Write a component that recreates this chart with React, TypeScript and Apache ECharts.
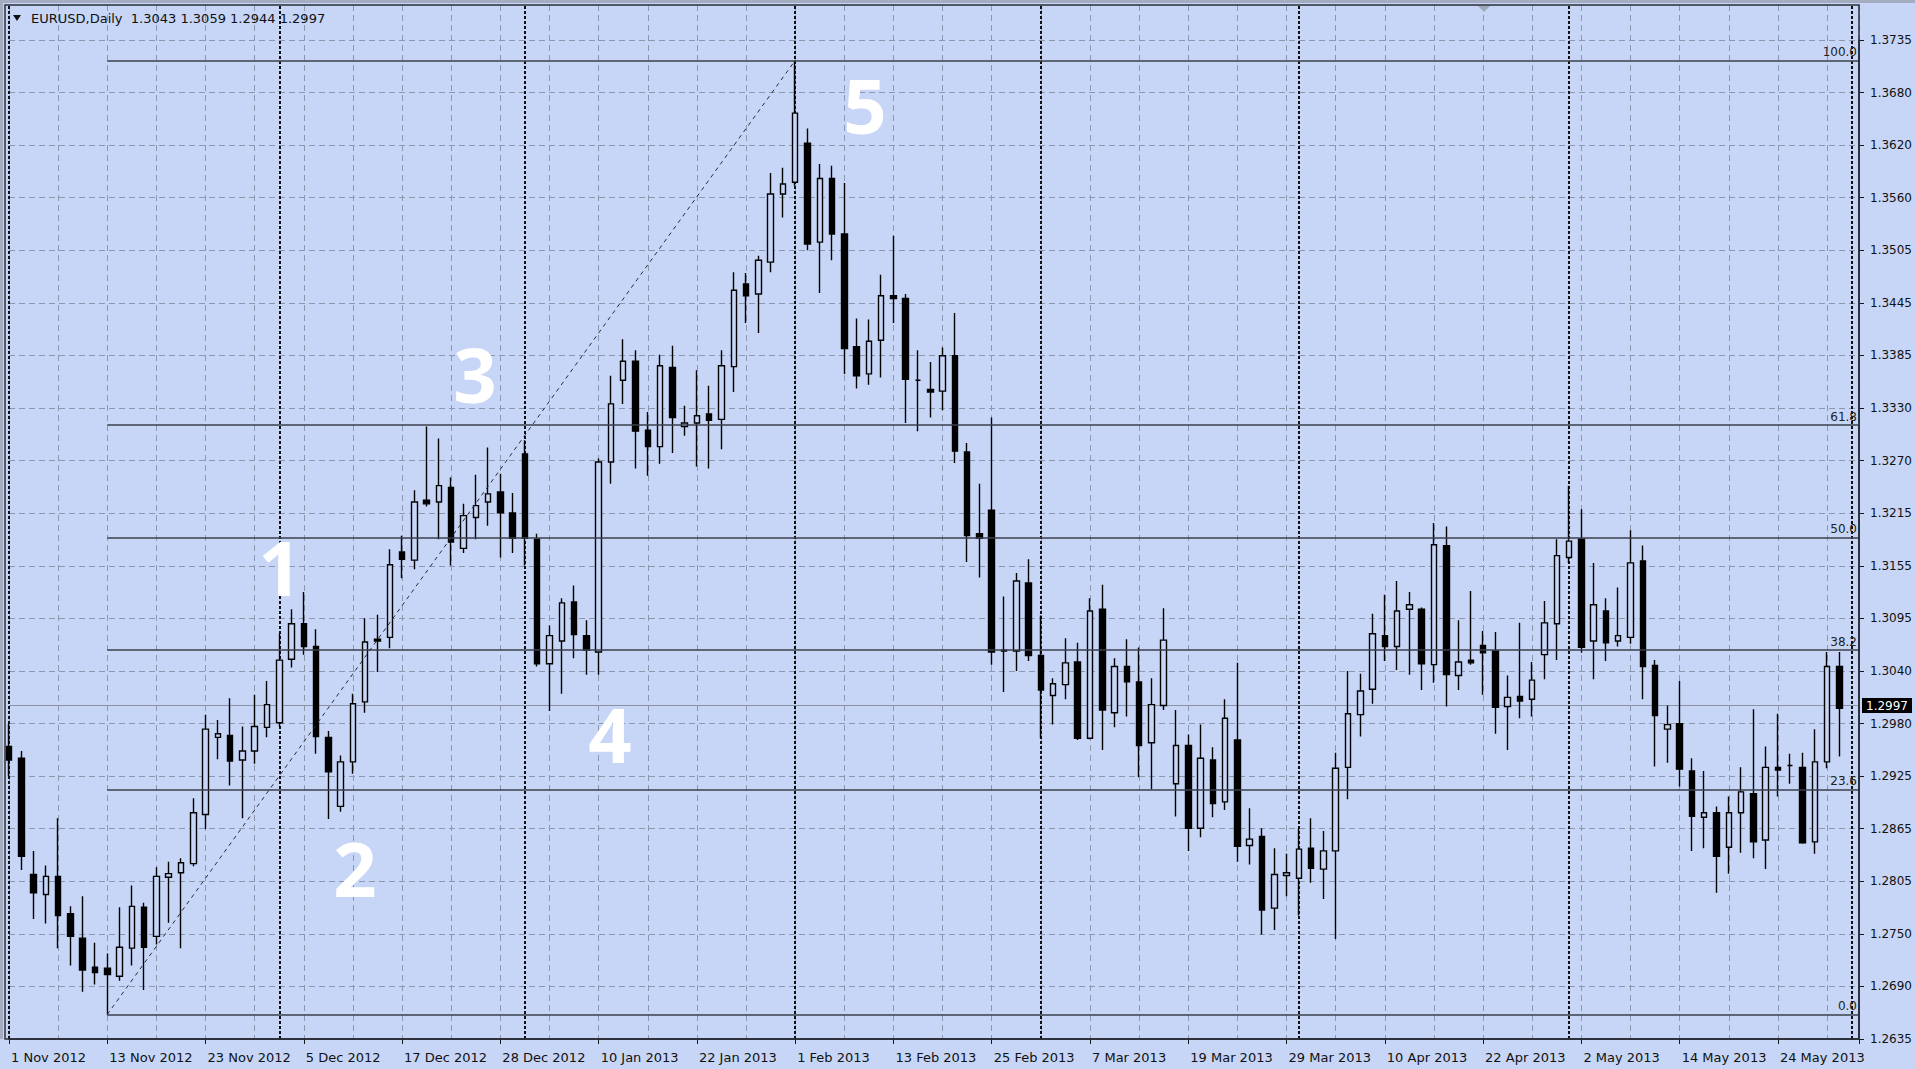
import React, { useEffect, useRef } from 'react';
import * as echarts from 'echarts';

// ---------------- data ----------------
const symbolTitle = 'EURUSD,Daily';

const opens = [
  1.2955, 1.2942, 1.2814, 1.2792, 1.2812, 1.2771, 1.2744, 1.2712, 1.2711, 1.2702,
  1.2733, 1.2778, 1.2746, 1.2811, 1.2816, 1.2826, 1.2880, 1.2965, 1.2967, 1.2940,
  1.2950, 1.2976, 1.2981, 1.3051, 1.3090, 1.3065, 1.2965, 1.2889, 1.2938, 1.3004,
  1.3073, 1.3075, 1.3169, 1.3160, 1.3226, 1.3224, 1.3240, 1.3173, 1.3207, 1.3224,
  1.3235, 1.3212, 1.3277, 1.3183, 1.3046, 1.3071, 1.3114, 1.3077, 1.3059, 1.3268,
  1.3358, 1.3379, 1.3303, 1.3285, 1.3372, 1.3307, 1.3311, 1.3321, 1.3315, 1.3373,
  1.3464, 1.3453, 1.3488, 1.3563, 1.3576, 1.3619, 1.3510, 1.3580, 1.3519, 1.3395,
  1.3365, 1.3402, 1.3451, 1.3448, 1.3358, 1.3348, 1.3346, 1.3385, 1.3279, 1.3189,
  1.3215, 1.3060, 1.3060, 1.3135, 1.3055, 1.3011, 1.3023, 1.3048, 1.2964, 1.3106,
  1.2992, 1.3043, 1.3026, 1.2959, 1.3000, 1.2914, 1.2956, 1.2865, 1.2940, 1.2894,
  1.2962, 1.2846, 1.2856, 1.2777, 1.2813, 1.2810, 1.2843, 1.2820, 1.2840, 1.2932,
  1.2990, 1.3018, 1.3077, 1.3065, 1.3106, 1.3106, 1.3045, 1.3176, 1.3033, 1.3050,
  1.3066, 1.3060, 1.2999, 1.3010, 1.3007, 1.3056, 1.3090, 1.3163, 1.3183, 1.3071,
  1.3104, 1.3071, 1.3075, 1.3159, 1.3044, 1.2974, 1.2980, 1.2928, 1.2877, 1.2882,
  1.2844, 1.2882, 1.2903, 1.2852, 1.2932, 1.2934, 1.2932, 1.2850, 1.2938, 1.3043,
];
const highs = [
  1.2980, 1.2950, 1.2840, 1.2824, 1.2876, 1.2779, 1.2790, 1.2739, 1.2727, 1.2778,
  1.2802, 1.2783, 1.2822, 1.2828, 1.2832, 1.2898, 1.2990, 1.2984, 1.3008, 1.2977,
  1.3012, 1.3027, 1.3079, 1.3106, 1.3125, 1.3084, 1.2972, 1.2945, 1.3013, 1.3096,
  1.3100, 1.3172, 1.3187, 1.3237, 1.3307, 1.3294, 1.3251, 1.3222, 1.3254, 1.3284,
  1.3255, 1.3234, 1.3292, 1.3189, 1.3088, 1.3118, 1.3132, 1.3094, 1.3272, 1.3363,
  1.3403, 1.3391, 1.3323, 1.3386, 1.3396, 1.3330, 1.3369, 1.3352, 1.3391, 1.3477,
  1.3476, 1.3495, 1.3586, 1.3592, 1.3710, 1.3635, 1.3596, 1.3594, 1.3575, 1.3426,
  1.3425, 1.3474, 1.3517, 1.3453, 1.3391, 1.3378, 1.3394, 1.3432, 1.3289, 1.3244,
  1.3317, 1.3120, 1.3146, 1.3161, 1.3099, 1.3030, 1.3074, 1.3069, 1.3118, 1.3133,
  1.3052, 1.3073, 1.3064, 1.3030, 1.3107, 1.2995, 1.2968, 1.2979, 1.2954, 1.3007,
  1.3047, 1.2887, 1.2865, 1.2843, 1.2837, 1.2865, 1.2876, 1.2862, 1.2948, 1.3038,
  1.3035, 1.3101, 1.3122, 1.3137, 1.3125, 1.3108, 1.3201, 1.3197, 1.3094, 1.3126,
  1.3082, 1.3081, 1.3033, 1.3091, 1.3048, 1.3115, 1.3183, 1.3242, 1.3216, 1.3157,
  1.3118, 1.3130, 1.3193, 1.3176, 1.3050, 1.3000, 1.3027, 1.2942, 1.2928, 1.2889,
  1.2900, 1.2932, 1.2996, 1.2955, 1.2991, 1.2947, 1.2948, 1.2974, 1.3059, 1.3059,
];
const lows = [
  1.2922, 1.2819, 1.2765, 1.2760, 1.2733, 1.2714, 1.2685, 1.2693, 1.2660, 1.2697,
  1.2714, 1.2687, 1.2737, 1.2761, 1.2733, 1.2823, 1.2864, 1.2941, 1.2912, 1.2876,
  1.2936, 1.2965, 1.2977, 1.3042, 1.3056, 1.2947, 1.2875, 1.2883, 1.2925, 1.2992,
  1.3037, 1.3063, 1.3140, 1.3150, 1.3219, 1.3183, 1.3154, 1.3168, 1.3183, 1.3198,
  1.3163, 1.3168, 1.3154, 1.3043, 1.2994, 1.3013, 1.3052, 1.3034, 1.3034, 1.3244,
  1.3332, 1.3261, 1.3253, 1.3266, 1.3278, 1.3297, 1.3263, 1.3261, 1.3282, 1.3345,
  1.3421, 1.3410, 1.3477, 1.3537, 1.3572, 1.3501, 1.3454, 1.3490, 1.3365, 1.3349,
  1.3353, 1.3361, 1.3421, 1.3311, 1.3302, 1.3317, 1.3325, 1.3267, 1.3158, 1.3141,
  1.3045, 1.3015, 1.3038, 1.3049, 1.2964, 1.2979, 1.3007, 1.2962, 1.2963, 1.2951,
  1.2976, 1.2988, 1.2921, 1.2908, 1.2995, 1.2878, 1.2840, 1.2855, 1.2877, 1.2885,
  1.2828, 1.2825, 1.2748, 1.2753, 1.2790, 1.2769, 1.2805, 1.2787, 1.2743, 1.2897,
  1.2966, 1.3002, 1.3049, 1.3039, 1.3034, 1.3017, 1.3025, 1.2999, 1.3017, 1.3045,
  1.3012, 1.2969, 1.2951, 1.2986, 1.2988, 1.3029, 1.3050, 1.3157, 1.3058, 1.3029,
  1.3049, 1.3065, 1.3068, 1.3007, 1.2933, 1.2937, 1.2911, 1.2840, 1.2843, 1.2794,
  1.2815, 1.2838, 1.2832, 1.2820, 1.2900, 1.2914, 1.2848, 1.2837, 1.2931, 1.2944,
];
const closes = [
  1.2940, 1.2834, 1.2794, 1.2812, 1.2769, 1.2746, 1.2709, 1.2706, 1.2704, 1.2734,
  1.2779, 1.2734, 1.2812, 1.2815, 1.2827, 1.2882, 1.2974, 1.2969, 1.2939, 1.2950,
  1.2977, 1.3001, 1.3050, 1.3090, 1.3065, 1.2966, 1.2927, 1.2938, 1.3002, 1.3070,
  1.3071, 1.3155, 1.3161, 1.3224, 1.3222, 1.3242, 1.3180, 1.3209, 1.3220, 1.3233,
  1.3212, 1.3184, 1.3184, 1.3046, 1.3077, 1.3113, 1.3078, 1.3061, 1.3268, 1.3332,
  1.3379, 1.3302, 1.3285, 1.3374, 1.3317, 1.3311, 1.3319, 1.3314, 1.3374, 1.3457,
  1.3451, 1.3490, 1.3563, 1.3574, 1.3652, 1.3508, 1.3580, 1.3519, 1.3393, 1.3363,
  1.3401, 1.3451, 1.3448, 1.3359, 1.3358, 1.3345, 1.3385, 1.3280, 1.3187, 1.3184,
  1.3059, 1.3061, 1.3137, 1.3055, 1.3017, 1.3024, 1.3047, 1.2964, 1.3104, 1.2995,
  1.3043, 1.3026, 1.2956, 1.3001, 1.3072, 1.2956, 1.2865, 1.2942, 1.2892, 1.2986,
  1.2845, 1.2853, 1.2775, 1.2814, 1.2816, 1.2842, 1.2821, 1.2840, 1.2931, 1.2991,
  1.3016, 1.3079, 1.3065, 1.3104, 1.3111, 1.3046, 1.3177, 1.3034, 1.3048, 1.3047,
  1.3058, 1.2998, 1.3009, 1.3005, 1.3028, 1.3091, 1.3165, 1.3181, 1.3064, 1.3111,
  1.3069, 1.3077, 1.3157, 1.3043, 1.2989, 1.2979, 1.2930, 1.2878, 1.2882, 1.2834,
  1.2882, 1.2905, 1.2850, 1.2932, 1.2929, 1.2934, 1.2849, 1.2938, 1.3043, 1.2997,
];

const xTickLabels = [
  '1 Nov 2012', '13 Nov 2012', '23 Nov 2012', '5 Dec 2012', '17 Dec 2012', '28 Dec 2012',
  '10 Jan 2013', '22 Jan 2013', '1 Feb 2013', '13 Feb 2013', '25 Feb 2013', '7 Mar 2013',
  '19 Mar 2013', '29 Mar 2013', '10 Apr 2013', '22 Apr 2013', '2 May 2013', '14 May 2013',
  '24 May 2013',
];
const xTickEvery = 8;
const yTickLabels = [
  '1.2635', '1.2690', '1.2750', '1.2805', '1.2865', '1.2925', '1.2980', '1.3040', '1.3095',
  '1.3155', '1.3215', '1.3270', '1.3330', '1.3385', '1.3445', '1.3505', '1.3560', '1.3620',
  '1.3680', '1.3735',
];
const fibLevels = [0, 23.6, 38.2, 50, 61.8, 100];
const fibStartBar = 8;
const fibEndBar = 64;
const separatorBars = [0, 22, 42, 64, 84, 105, 127, 150];
const waveTexts = ['1', '2', '3', '4', '5'];

// ---------------- layout / style ----------------
const W = 1915;
const H = 1069;
const PLOT_L = 9;
const PLOT_R = 1859;
const PLOT_T = 5;
const PLOT_B = 1039;
const TICK_T = 40;
const X_MAX = 150.6;
const PRICE_MIN = 1.2633;
const PRICE_MAX = 1.3771;
const BG = '#c7d6f6';
const GRID = '#8d98ae';
const INK = '#15171c';
const FONT = 'DejaVu Sans';
const wavePos = [
  [280, 566],
  [355, 867],
  [475, 373],
  [610, 733],
  [865, 104],
];

export default function App() {
  const ref = useRef<HTMLDivElement>(null);

  useEffect(() => {
    if (!ref.current) return;
    const chart = echarts.init(ref.current, undefined, { renderer: 'svg' });
    const last = opens.length - 1;
    const candleData = opens.map((o, i) => [i, o, closes[i], lows[i], highs[i]]);
    const fibLow = lows[fibStartBar];
    const fibHigh = highs[fibEndBar];

    const fibLines = fibLevels.map((lv) => {
      const price = fibLow + (fibHigh - fibLow) * (lv / 100);
      return [
        {
          coord: [fibStartBar, price],
          lineStyle: { color: '#3a3f4c', width: 1.5, type: 'solid' },
          label: {
            show: true,
            position: 'insideEndTop',
            formatter: lv.toFixed(1),
            color: '#222',
            fontFamily: FONT,
            fontSize: 12,
            distance: 2,
          },
        },
        { coord: [X_MAX, price] },
      ];
    });

    const diag = [
      {
        coord: [fibStartBar, fibLow],
        lineStyle: { color: '#2a2e38', width: 1, type: [4, 4] },
        label: { show: false },
      },
      { coord: [fibEndBar, fibHigh] },
    ];

    const seps = separatorBars.map((b) => ({
      xAxis: b,
      lineStyle: { color: '#111', width: 2, type: [3, 2] },
      label: { show: false },
    }));

    const bid = {
      yAxis: closes[last],
      lineStyle: { color: '#8a92a3', width: 1, type: 'solid' },
      label: {
        show: true,
        position: 'end',
        distance: 3,
        formatter: closes[last].toFixed(4),
        backgroundColor: '#000',
        color: '#fff',
        fontFamily: FONT,
        fontSize: 12,
        padding: [2, 4, 1, 4],
      },
    };

    const title = `${symbolTitle}  ${opens[last].toFixed(4)} ${highs[last].toFixed(4)} ${lows[last].toFixed(4)} ${closes[last].toFixed(4)}`;

    const graphic: any[] = [
      { type: 'rect', shape: { x: 0, y: 0, width: W, height: 3 }, style: { fill: '#a4adbf' }, silent: true },
      { type: 'rect', shape: { x: 0, y: 0, width: 3, height: PLOT_B }, style: { fill: '#a4adbf' }, silent: true },
      {
        type: 'rect',
        shape: { x: 5, y: PLOT_T, width: PLOT_R - 5, height: PLOT_B - PLOT_T },
        style: { fill: 'none', stroke: '#2a2e38', lineWidth: 1.5 },
        silent: true,
        z: 10,
      },
      {
        type: 'polygon',
        shape: { points: [[13, 15], [21, 15], [17, 21]] },
        style: { fill: '#111' },
        silent: true,
        z: 20,
      },
      {
        type: 'polygon',
        shape: { points: [[1478, 6], [1490, 6], [1484, 12]] },
        style: { fill: '#9ea8bb' },
        silent: true,
        z: 20,
      },
      {
        type: 'text',
        x: 31,
        y: 18,
        style: { text: title, font: `13px "${FONT}"`, fill: '#111', textVerticalAlign: 'middle' },
        silent: true,
        z: 20,
      },
      ...waveTexts.map((t, i) => ({
        type: 'text',
        x: wavePos[i][0],
        y: wavePos[i][1],
        style: {
          text: t,
          font: 'bold 76px "Open Sans"',
          fill: '#ffffff',
          textAlign: 'center',
          textVerticalAlign: 'middle',
        },
        silent: true,
        z: 30,
      })),
    ];

    chart.setOption({
      animation: false,
      backgroundColor: BG,
      grid: [
        { left: PLOT_L, top: PLOT_T, width: PLOT_R - PLOT_L, height: PLOT_B - PLOT_T, show: false },
        { left: PLOT_L, top: TICK_T, width: PLOT_R - PLOT_L, height: PLOT_B - TICK_T, show: false },
      ],
      xAxis: [
        {
          gridIndex: 0,
          type: 'value',
          min: 0,
          max: X_MAX,
          interval: 4,
          position: 'bottom',
          axisLine: { show: true, onZero: false, lineStyle: { color: INK, width: 1.5 } },
          axisTick: { show: false },
          axisLabel: { show: false },
          splitLine: { show: true, lineStyle: { color: GRID, width: 1, type: [6, 4] } },
        },
        { gridIndex: 1, type: 'value', min: 0, max: X_MAX, show: false },
        {
          gridIndex: 0,
          type: 'value',
          min: 0,
          max: X_MAX,
          interval: xTickEvery,
          position: 'bottom',
          axisLine: { show: false, onZero: false },
          axisTick: { show: true, length: 5, lineStyle: { color: INK, width: 1 } },
          splitLine: { show: false },
          axisLabel: {
            show: true,
            align: 'left',
            margin: 12,
            padding: [0, 0, 0, 2],
            color: '#111',
            fontFamily: FONT,
            fontSize: 13,
            showMinLabel: true,
            showMaxLabel: true,
            formatter: (v: number) => {
              const k = v / xTickEvery;
              const r = Math.round(k);
              return Math.abs(k - r) < 1e-6 && r < xTickLabels.length ? xTickLabels[r] : '';
            },
          },
        },
      ],
      yAxis: [
        { gridIndex: 0, type: 'value', min: PRICE_MIN, max: PRICE_MAX, show: false, scale: true },
        {
          gridIndex: 1,
          type: 'value',
          min: 0,
          max: yTickLabels.length - 1,
          interval: 1,
          position: 'right',
          axisLine: { show: true, onZero: false, lineStyle: { color: INK, width: 1.5 } },
          axisTick: { show: true, length: 5, lineStyle: { color: INK } },
          axisLabel: {
            show: true,
            margin: 11,
            color: '#111',
            fontFamily: FONT,
            fontSize: 12,
            formatter: (v: number) => yTickLabels[Math.round(v)] ?? '',
          },
          splitLine: { show: true, lineStyle: { color: GRID, width: 1, type: [6, 4] } },
        },
      ],
      graphic,
      series: [
        {
          type: 'line',
          name: 'separators',
          xAxisIndex: 0,
          yAxisIndex: 0,
          data: [],
          z: 1,
          silent: true,
          markLine: {
            silent: true,
            z: 1,
            symbol: ['none', 'none'],
            animation: false,
            data: [...seps, bid],
          },
        },
        {
          type: 'candlestick',
          xAxisIndex: 0,
          yAxisIndex: 0,
          data: candleData,
          encode: { x: 0, y: [1, 2, 3, 4] },
          barWidth: 6,
          clip: false,
          z: 3,
          itemStyle: {
            color: BG,
            color0: '#000000',
            borderColor: '#000000',
            borderColor0: '#000000',
            borderWidth: 1.4,
          },
          markLine: {
            silent: true,
            z: 5,
            symbol: ['none', 'none'],
            animation: false,
            data: [...fibLines, diag],
          },
        },
      ],
    });

    return () => chart.dispose();
  }, []);

  return (
    <div
      ref={ref}
      style={{ position: 'fixed', left: 0, top: 0, width: W, height: H, background: BG }}
    />
  );
}
